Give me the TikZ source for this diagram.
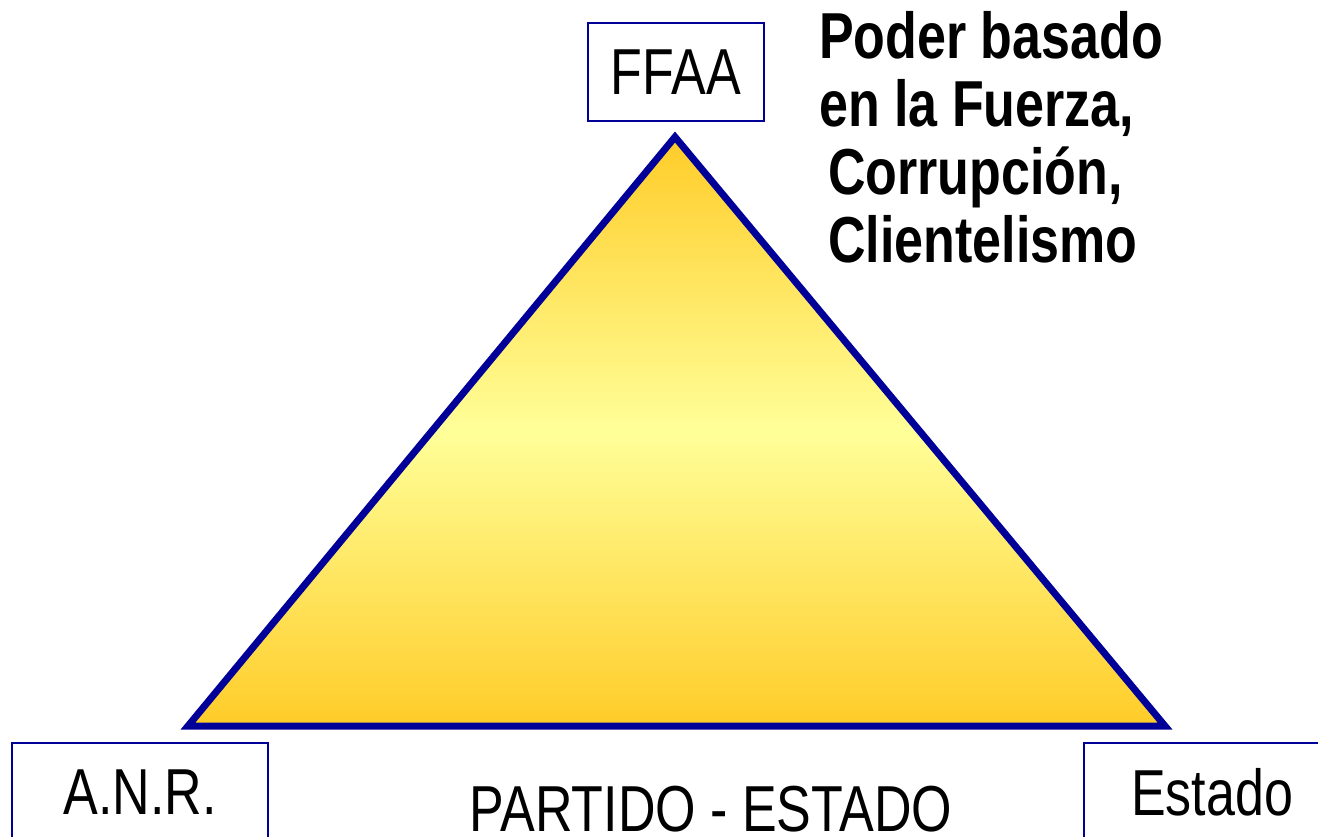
\documentclass[tikz,border=0pt]{standalone}
\usepackage{fontspec}
\setmainfont{Liberation Sans}[FakeStretch=0.8]
\usepackage{tikz}
\definecolor{navy}{RGB}{0,0,153}
\definecolor{gold}{RGB}{255,204,40}
\definecolor{paleyellow}{RGB}{255,255,153}

\begin{document}
\begin{tikzpicture}[x=1pt,y=-1pt,
		  box/.style={draw=navy,line width=2pt,inner sep=0pt,font=\fontsize{65pt}{67pt}\selectfont},
		  label/.style={inner sep=0pt,font=\fontsize{65pt}{67pt}\selectfont}]
		  \path[use as bounding box,clip] (0,0) rectangle (1318,837);
		  \coordinate (apex)  at (675,137);
		  \coordinate (left)  at (188,726);
		  \coordinate (right) at (1165,726);
		  \draw[draw=navy,line width=7pt,line join=miter,top color=gold,bottom color=gold,middle color=paleyellow]
		    (apex) -- (left) -- (right) -- cycle;
		  \node[box,minimum width=176pt,minimum height=98pt] (ffaa)   at (676,72)   {FFAA};
		  \node[box,minimum width=256pt,minimum height=98pt] (anr)    at (140,792)  {A.N.R.};
		  \node[box,minimum width=256pt,minimum height=98pt] (estado) at (1212,792) {Estado}; %box runs off the page
		  \node[label,anchor=base] (partido) at (711,831) {PARTIDO - ESTADO};
		  \node[label,anchor=north west,align=left,font=\fontsize{65pt}{68pt}\selectfont\bfseries] (poder) at (819,11)
		    {Poder basado\\en la Fuerza,\\\hspace{9pt}Corrupción,\\\hspace{9pt}Clientelismo};
		\end{tikzpicture}
\end{document}
